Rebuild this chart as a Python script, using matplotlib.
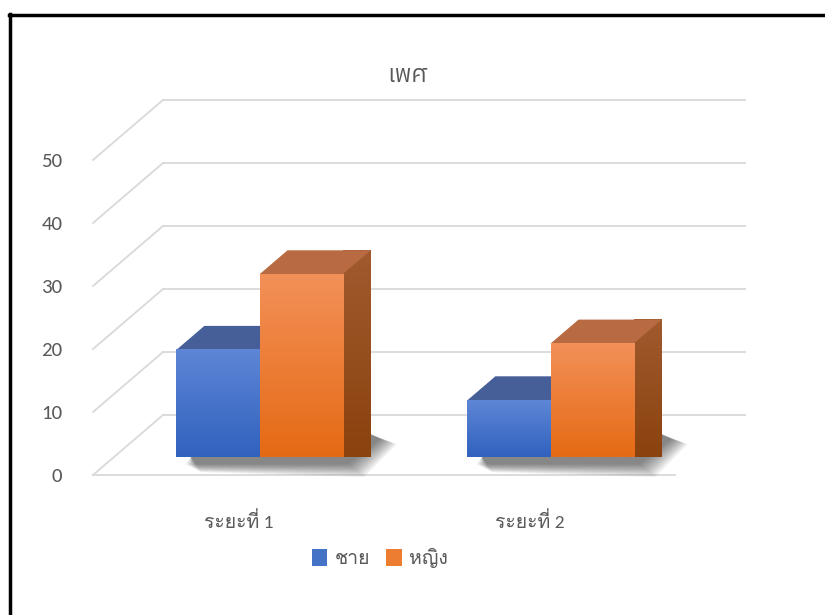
import numpy as np
import matplotlib
matplotlib.use("Agg")
import matplotlib.pyplot as plt
from matplotlib.patches import Polygon, Patch
from matplotlib.lines import Line2D
from matplotlib import font_manager as fm

names = sorted({f.name for f in fm.fontManager.ttflist})
fam = [n for n in ['Carlito', 'Lato', 'Loma'] if n in names] + ['DejaVu Sans']
plt.rcParams['font.family'] = fam
title_fam = [n for n in ['IBM Plex Sans Thai', 'Loma'] if n in names] + ['DejaVu Sans']

# ---- data ----
categories = ['ระยะที่ 1', 'ระยะที่ 2']
series_names = ['ชาย', 'หญิง']
male = [17, 9]
female = [29, 18]
yticks = [0, 10, 20, 30, 40, 50]
title = 'เพศ'

# ---- style ----
front_top = ['#5E86D6', '#F39058']
front_bot = ['#3062BE', '#E56A14']
top_col = ['#475F98', '#B86B42']
side_top = ['#A05A2E', '#A05A2E']
side_bot = ['#8A420E', '#8A420E']
legend_col = ['#4472C4', '#ED7D31']
grid_c = '#D9D9D9'
txt_c = '#595959'

W, H = 825, 615
fig = plt.figure(figsize=(W / 100, H / 100), dpi=100)
ax = fig.add_axes([93 / W, 1 - 475 / H, 582 / W, 315 / H])
ax.set_xlim(0, 2)
ax.set_ylim(0, 50)

# depth of the floor in data units (pseudo 3D)
DX = 70 / 582 * 2
DY = 60 / 315 * 50
d0, d1 = 0.3, 0.7  # bars sit in middle of depth

def off(d):
    return d * DX, d * DY

# gridlines: back wall + left wall
for v in yticks:
    ax.plot([DX, 2 + DX], [v + DY, v + DY], color=grid_c, lw=1.3, clip_on=False, zorder=1)
    ax.plot([0, DX], [v, v + DY], color=grid_c, lw=1.3, clip_on=False, zorder=1)
ax.plot([0, 2], [0, 0], color=grid_c, lw=1.3, clip_on=False, zorder=1)

n_cat = len(categories)
w = 1 / 3.5
values = [male, female]

# soft shadows on floor, strongest at the right back corner of each pair
for i in range(n_cat):
    xl = i + 0.5 - w
    xr = i + 0.5 + w
    fx, fy = off(d0)
    bx, by = off(d1)
    for k in range(10):
        s = 0.006 * k
        sy = 0.22 * k
        pts = [(xl + fx + 0.03 + s, fy - 1.2 - sy * 0.6),
               (xr + fx + 0.02 + s, fy - 1.2 - sy),
               (xr + bx + 0.035 + s, by - 1.0 - sy * 0.4),
               (xr + bx - 0.01, by),
               (xr + fx, fy),
               (xl + fx + 0.05, fy)]
        ax.add_patch(Polygon(pts, closed=True, facecolor='black', edgecolor='none',
                             alpha=0.06, clip_on=False, zorder=2))

grad = np.linspace(0, 1, 100).reshape(-1, 1)

def vgrad(c_top, c_bot):
    a = np.array(matplotlib.colors.to_rgb(c_top))
    b = np.array(matplotlib.colors.to_rgb(c_bot))
    return (b[None, None, :] * grad[:, :, None] + a[None, None, :] * (1 - grad[:, :, None]))

for i in range(n_cat):
    for j in range(len(series_names)):
        v = values[j][i]
        x0 = i + 0.5 - w + j * w
        x1 = x0 + w
        fx, fy = off(d0)
        bx, by = off(d1)
        z = 3 + j
        # side face (right)
        side = Polygon([(x1 + fx, fy), (x1 + bx, by), (x1 + bx, v + by), (x1 + fx, v + fy)],
                       closed=True, facecolor=side_bot[j], edgecolor='none', clip_on=False, zorder=z)
        ax.add_patch(side)
        im = ax.imshow(vgrad(side_top[j], side_bot[j]), extent=[x1 + fx, x1 + bx, fy, v + by],
                       aspect='auto', origin='upper', zorder=z, clip_on=False)
        im.set_clip_path(side)
        # top face
        ax.add_patch(Polygon([(x0 + fx, v + fy), (x1 + fx, v + fy), (x1 + bx, v + by), (x0 + bx, v + by)],
                             closed=True, facecolor=top_col[j], edgecolor='none', clip_on=False, zorder=z))
        # front face with gradient
        ax.imshow(vgrad(front_top[j], front_bot[j]), extent=[x0 + fx, x1 + fx, fy, v + fy],
                  aspect='auto', origin='upper', zorder=z + 0.1, clip_on=False)

ax.set_xlim(0, 2)
ax.set_ylim(0, 50)

for s in ax.spines.values():
    s.set_visible(False)
ax.set_yticks(yticks)
ax.set_yticklabels([str(t) for t in yticks], fontsize=15, color=txt_c)
ax.set_xticks([i + 0.5 for i in range(n_cat)])
ax.set_xticklabels(categories, fontsize=14, color=txt_c)
ax.tick_params(axis='y', length=0, pad=22)
ax.tick_params(axis='x', length=0, pad=26)
ax.patch.set_alpha(0)

fig.text(407 / W, 1 - 75 / H, title, fontsize=17, color=txt_c, ha='center', va='center',
         family=title_fam)

handles = [Patch(facecolor=c, edgecolor='none') for c in legend_col]
fig.legend(handles, series_names, loc='center', bbox_to_anchor=(380 / W, 1 - 558 / H), ncol=2,
           frameon=False, fontsize=14, labelcolor=txt_c, handlelength=0.8, handleheight=1.0,
           handletextpad=0.4, columnspacing=0.8)

# chart frame (black border at top and left)
fig.add_artist(Line2D([9 / W, 1], [1 - 15 / H, 1 - 15 / H], color='black', lw=2.5))
fig.add_artist(Line2D([10 / W, 10 / W], [0, 1 - 14 / H], color='black', lw=2.5))

fig.savefig('out.png', dpi=100)
